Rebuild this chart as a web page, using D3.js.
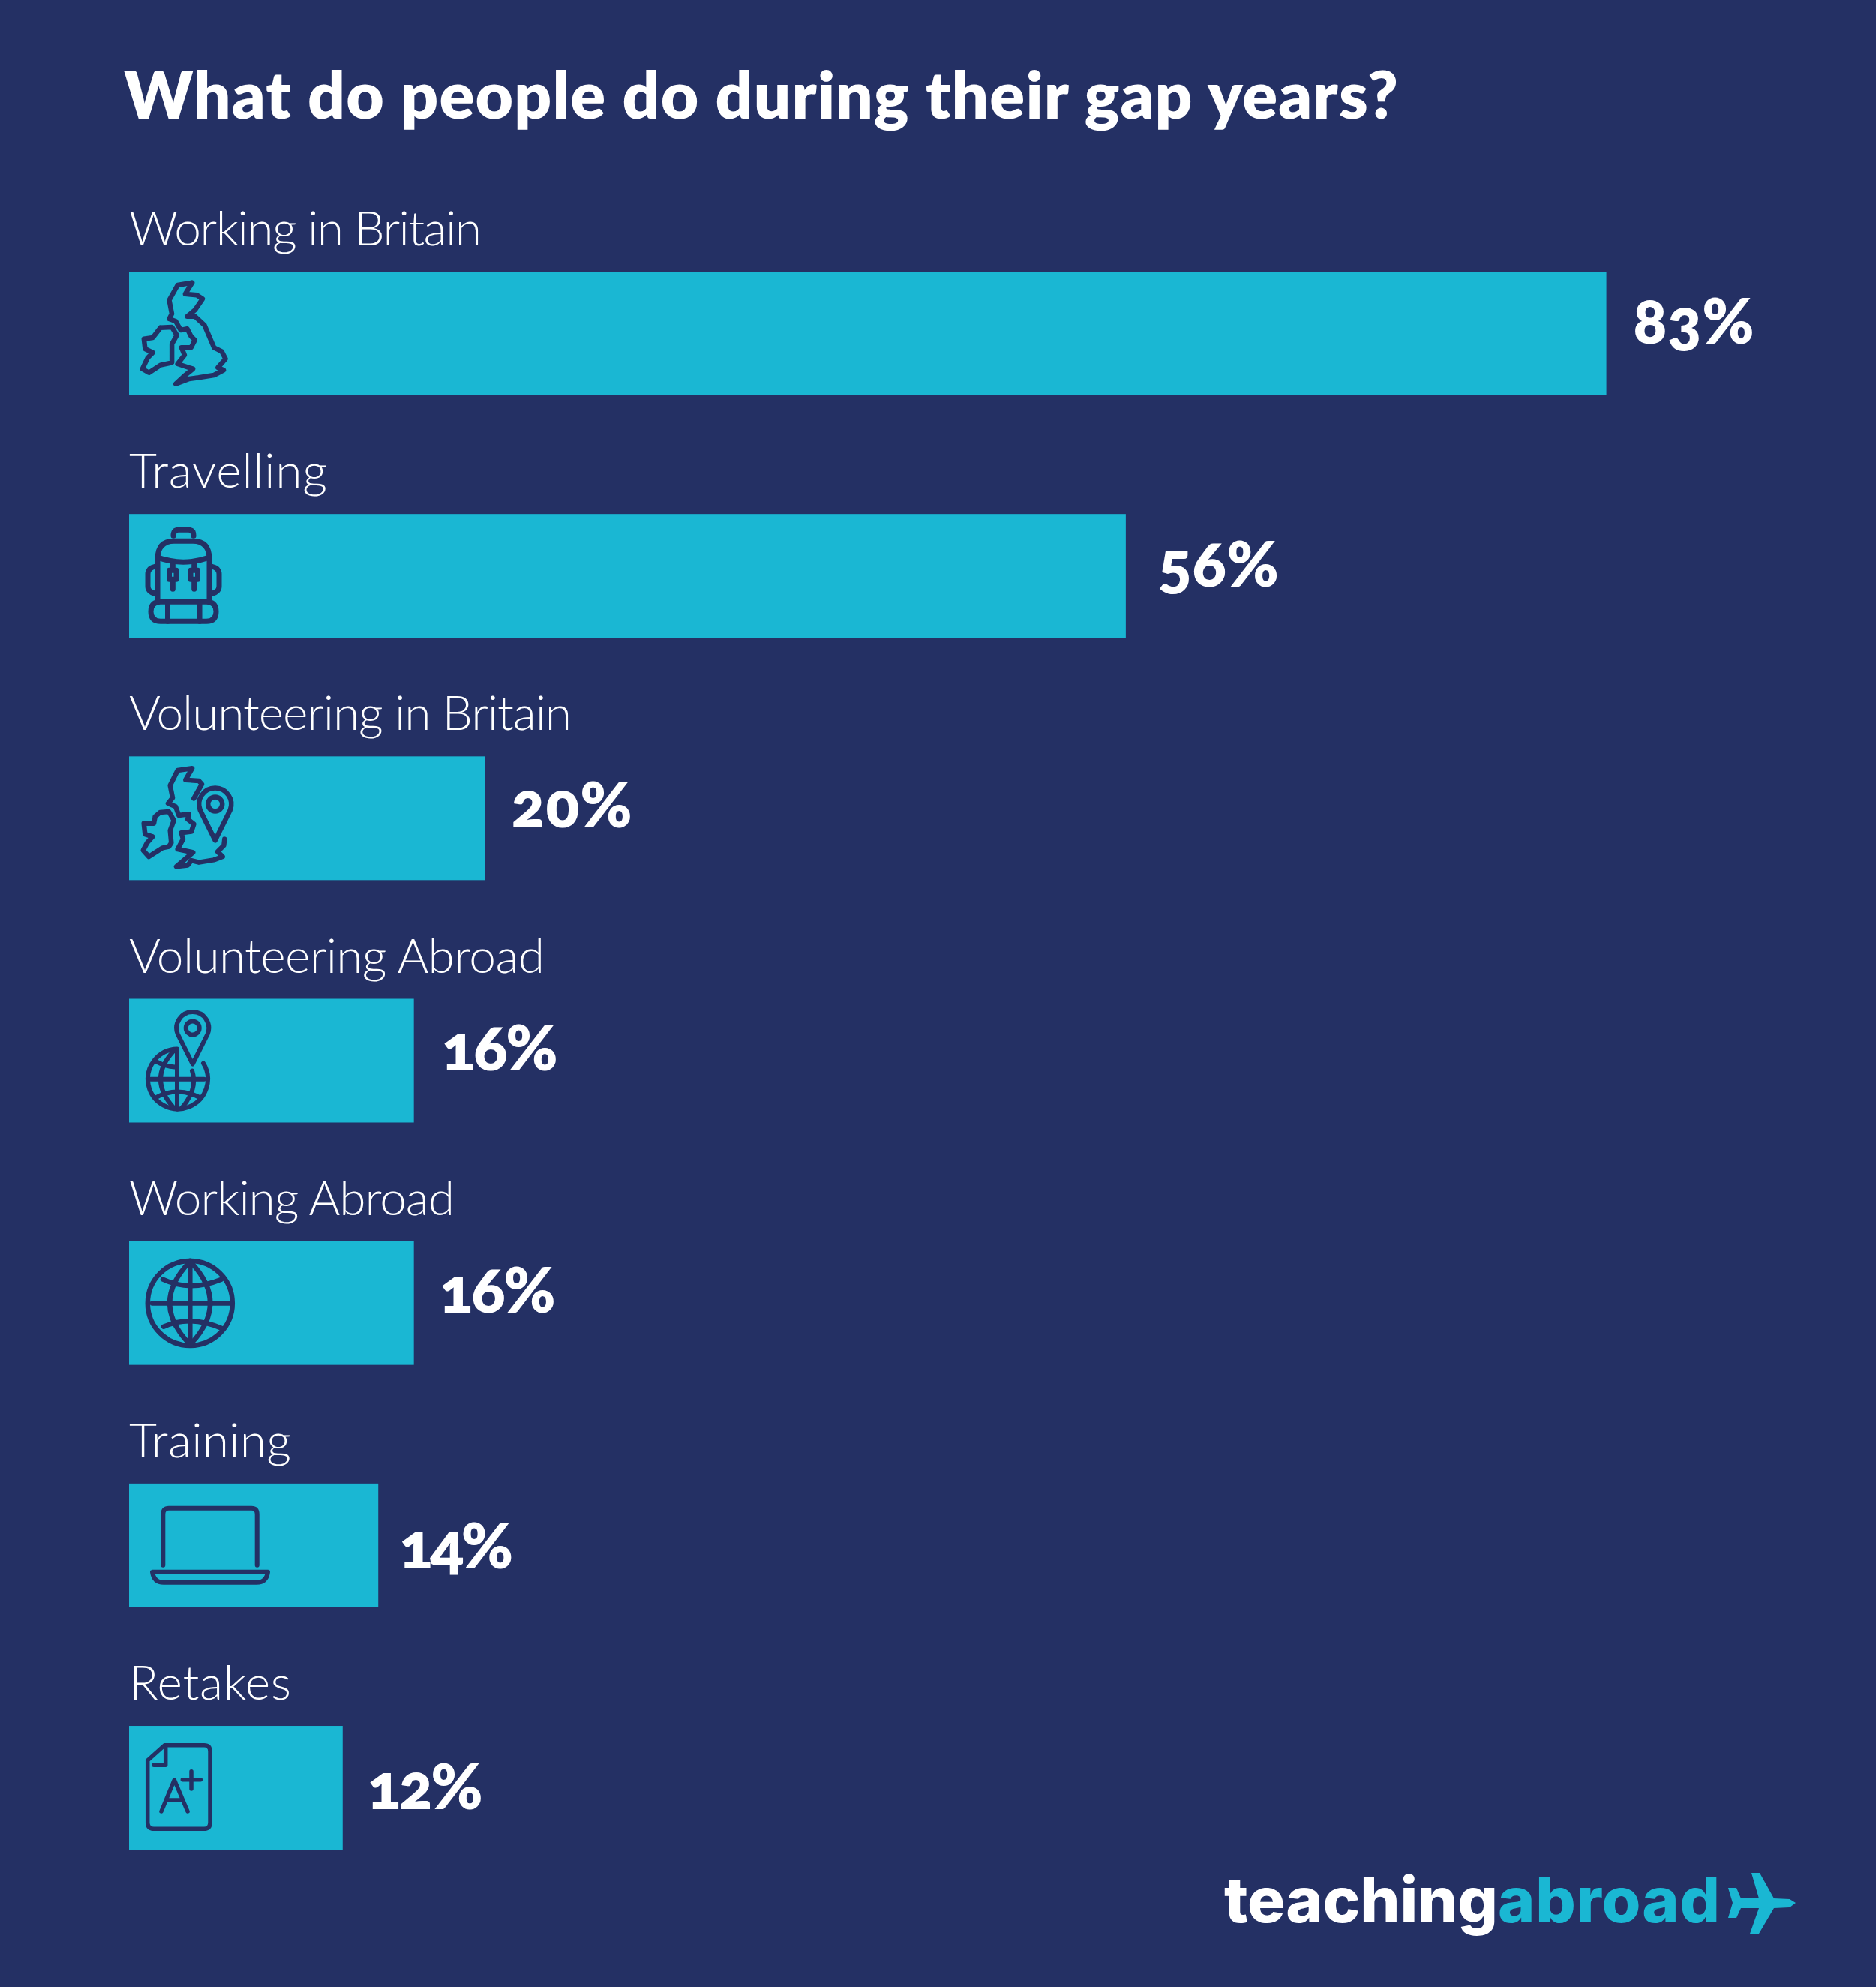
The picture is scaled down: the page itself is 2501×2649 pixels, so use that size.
<!DOCTYPE html>
<html>
<head>
<meta charset="utf-8">
<script src="https://cdn.jsdelivr.net/npm/d3@7"></script>
<style>
  html, body { margin: 0; padding: 0; background: #243064; }
  svg { display: block; }
  .title { font-family: Lato, sans-serif; font-weight: 800; font-size: 87px; fill: #fff; }
  .label { font-family: Lato, sans-serif; font-weight: 300; font-size: 64px; fill: #fff; }
  .value { font-family: Lato, sans-serif; font-weight: 800; font-size: 83px; fill: #fff; font-feature-settings: "onum"; }
  .logo { font-family: Inter, sans-serif; font-weight: 800; font-size: 84px; }
  .icon { fill: none; stroke: #243064; stroke-linecap: round; stroke-linejoin: round; }
</style>
</head>
<body>
<div id="chart"></div>
<script>
var titleText = "What do people do during their gap years?";
var categories = ["Working in Britain", "Travelling", "Volunteering in Britain", "Volunteering Abroad", "Working Abroad", "Training", "Retakes"];
var percents = [83, 56, 20, 16, 16, 14, 12];
var iconNames = ["uk", "backpack", "ukpin", "globepin", "globe", "laptop", "grade"];

var width = 2501, height = 2649;
var navy = "#243064", teal = "#1ab7d3";

var svg = d3.select("#chart").append("svg").attr("width", width).attr("height", height);
svg.append("rect").attr("width", width).attr("height", height).attr("fill", navy);

var x = d3.scaleLinear().domain([0, 100]).range([172, 2545]);
var y = d3.scaleBand().domain(categories).range([362, 2466]).paddingInner(0.4895).paddingOuter(0).align(0);

// the original font is wider than Lato, so each text is fitted to its measured width
var labelWidths = [470, 264, 590, 554, 434, 216, 216];
var valueWidths = [161, 161, 161, 155, 155, 152, 154];
// the value labels sit slightly off a fixed gap in the original
var valueGap = [36, 43, 35, 37, 34, 28, 33];
var valueLift = [0, 1, -1, -1, -1, 17, 15];
var iconStroke = [6.5, 7, 6.5, 6, 6.5, 6, 5.5];

svg.append("text").attr("class", "title").attr("x", 165).attr("y", 158)
  .attr("textLength", 1699).text(titleText);

var rows = svg.selectAll(".row").data(categories).enter().append("g").attr("class", "row");

rows.append("rect")
  .attr("x", x(0))
  .attr("y", function(d) { return y(d); })
  .attr("width", function(d, i) { return x(percents[i]) - x(0); })
  .attr("height", y.bandwidth())
  .attr("fill", teal);

rows.append("text")
  .attr("class", "label")
  .attr("x", x(0))
  .attr("y", function(d) { return y(d) - 35; })
  .attr("textLength", function(d, i) { return labelWidths[i]; })
  .text(function(d) { return d; });

rows.append("text")
  .attr("class", "value")
  .attr("x", function(d, i) { return x(percents[i]) + valueGap[i]; })
  .attr("y", function(d, i) { return y(d) + 96 + valueLift[i]; })
  .attr("textLength", function(d, i) { return valueWidths[i]; })
  .text(function(d, i) { return percents[i] + "%"; });

// icons, drawn in pixels from the top left of their bar
var line = d3.line().curve(d3.curveLinear);

function pin(cx, cy, r, tip) {
  return "M" + (cx - r * 0.93) + "," + (cy + r * 0.37) + "A" + r + "," + r + " 0 1 1 " + (cx + r * 0.93) + "," + (cy + r * 0.37) + "L" + cx + "," + tip + "Z";
}
function ring(cx, cy, r) {
  return "M" + (cx - r) + "," + cy + "A" + r + "," + r + " 0 1 1 " + (cx + r) + "," + cy + "A" + r + "," + r + " 0 1 1 " + (cx - r) + "," + cy + "Z";
}

var britain = [[84.1,14.7],[64.7,18],[53.5,38],[57,56.3],[53.5,63],[62.2,66.3],[68.8,78],[77.5,76.3],[82.6,86.3],[87.7,91.3],[82.6,101.3],[69.8,101.3],[73.9,111.3],[64.7,123],[85.1,129.7],[74.9,138],[62.2,149.7],[80,143],[92.8,141.3],[113.2,138],[126,131.3],[118.3,128],[128.5,116.3],[123.4,106.3],[113.2,101.3],[100.4,71.3],[87.7,59.7],[77.5,59.7],[87.7,51.3],[97.9,36.3],[90.2,31.3],[74.9,29.7],[84.1,14.7]];
var ireland = [[41.8,74.7],[57.1,74],[63.7,84.7],[57.1,96.3],[57.1,121.3],[41.8,124.7],[26.5,134.7],[17.8,129.7],[24.9,114.7],[31.6,108],[21.4,103],[19.8,89.7],[31.6,88],[41.8,74.7]];
var britainCut = [[86.3,56],[97,37],[93,32.7],[75.3,31.3],[84,16],[64.7,18.7],[54.7,38.7],[58,55.3],[52,62.7],[62,67],[66.3,78.7],[79.7,77],[78,83.7],[86.3,90.3],[83,100.3],[69.7,102],[72,110.3],[64.7,123.7],[85.3,128],[63,147],[78,145.3],[83,138.7],[93,141.3],[113,138],[124.7,133.7],[118,127],[126.3,118.7],[127.3,110.3]];
var irelandCut = [[34.7,80.3],[41.3,74.7],[53,73.7],[59.7,85.3],[54.7,98.7],[56.3,115.3],[53,120.3],[44.7,122],[26.3,133.7],[18.7,125.3],[24,115.3],[31.3,107],[21.3,103.7],[19.7,89.3],[33,89.3],[34.7,80.3]];

var icons = {
  uk: [line(britain), line(ireland)],
  backpack: [
    "M59,29 Q59,21 66,21 H79 Q86,21 86,29",
    "M38,113 V60 Q38,36 60,36 H85 Q107,36 107,60 V113",
    "M38,58 Q72,70 107,58",
    "M58.3,67 V74 M58.3,90 V100 M86.7,67 V74 M86.7,90 V100",
    "M53.5,75 H63 V87 H53.5 Z M82,75 H91.5 V87 H82 Z",
    "M35,70 Q25,72 25,80 V96 Q25,104 35,106",
    "M110,70 Q120,72 120,80 V96 Q120,104 110,106",
    "M42,117 H103 Q116,117 116,130 Q116,143 103,143 H42 Q29,143 29,130 Q29,117 42,117 Z",
    "M51.5,117 V143 M94,117 V143"
  ],
  ukpin: [line(britainCut), line(irelandCut), pin(114.7, 63.7, 21.5, 112), ring(114.7, 63.7, 9.5)],
  globepin: [
    pin(84.7, 39, 21.5, 87),
    ring(84.7, 39, 9),
    "M99,86 A40,40 0 1 1 64,67",
    "M64,68 V147 M28,107.3 H100",
    "M60,69 Q24,107 60,146 M84,96 Q92,120 70,146",
    "M37,84 Q48,90 61,91 M35,132 Q64,116 95,132"
  ],
  globe: [
    ring(81.3, 82.7, 56.5),
    "M81.3,26 V139 M31,82.7 H135",
    "M81.3,27 Q27,82.7 81.3,138 Q135,82.7 81.3,27 Z",
    "M45,51 Q81,68 123,51 M46,114 Q81,98 123,116"
  ],
  laptop: [
    "M45.3,109 V41 Q45.3,33 53,33 H163 Q170.7,33 170.7,41 V109",
    "M31,118 H185 Q183,132 170,132 H46 Q33,132 31,118 Z"
  ],
  grade: [
    "M47.3,25.7 H100 Q108,25.7 108,34 V129 Q108,137.3 100,137.3 H33 Q24.7,137.3 24.7,129 V46 Z",
    "M48.7,29 V52.3 H33",
    "M43,114 L60.3,72 L78,114 M49,99 H72",
    "M71.3,71.7 H95.3 M83,60.7 V84"
  ]
};

rows.append("g")
  .attr("transform", function(d) { return "translate(" + x(0) + "," + y(d) + ")"; })
  .each(function(d, i) {
    d3.select(this).selectAll("path").data(icons[iconNames[i]]).enter().append("path")
      .attr("class", "icon")
      .attr("stroke-width", iconStroke[i])
      .attr("d", function(p) { return p; });
  });

// logo
svg.append("text").attr("class", "logo").attr("x", 1632).attr("y", 2563).attr("fill", "#fff")
  .attr("textLength", 365).text("teaching");
svg.append("text").attr("class", "logo").attr("x", 1997).attr("y", 2563).attr("fill", teal)
  .attr("textLength", 296).text("abroad");

var plane = [[2304,2517],[2315,2517],[2321,2531],[2345,2531],[2335,2497],[2346,2497],[2365,2531],[2386,2532],[2394,2537],[2386,2543],[2365,2544],[2345,2578],[2333,2578],[2345,2544],[2321,2544],[2315,2557],[2304,2557],[2310,2537]];
svg.append("path").attr("d", line(plane) + "Z").attr("fill", teal);
</script>
</body>
</html>
